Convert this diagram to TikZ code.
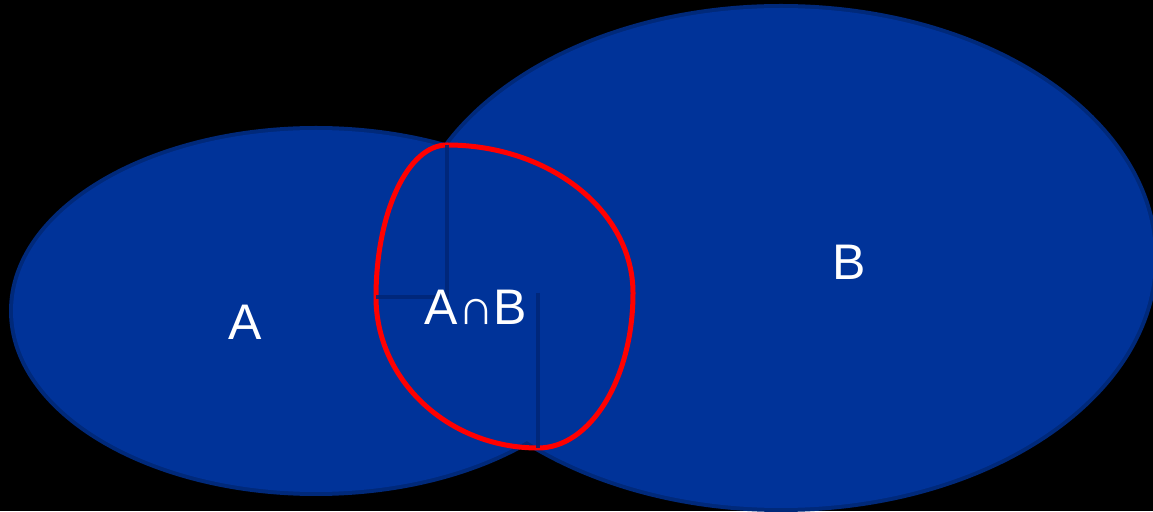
\documentclass[tikz,border=0pt]{standalone}
\usepackage{fontspec}
\setmainfont{Liberation Sans}
\usetikzlibrary{positioning}
\definecolor{setfill}{RGB}{0,51,153}
\definecolor{setedge}{RGB}{0,41,122}
\definecolor{arcedge}{RGB}{0,38,118}
\definecolor{lensred}{RGB}{255,0,0}
\tikzset{
  setline/.style={draw=setedge,line width=8pt},
  setbody/.style={fill=setfill},
  lens/.style={draw=lensred,line width=5pt},
  radius line/.style={draw=arcedge,line width=3.6pt,opacity=0.85},
  setlab/.style={text=white,font=\fontsize{50}{58}\selectfont,inner sep=0pt}
}
\begin{document}
\begin{tikzpicture}[x=1pt,y=1pt]
  \fill[black] (0,0) rectangle (1153,511);
  \useasboundingbox (0,0) rectangle (1153,511);
  \path[setline] (781,253) ellipse [x radius=373,y radius=250];
  \path[setline] (316,200) ellipse [x radius=303,y radius=181];
  \path[setbody] (781,253) ellipse [x radius=373,y radius=250];
  \path[setbody] (316,200) ellipse [x radius=303,y radius=181];
  \coordinate (lw) at (376,214);
  \coordinate (tp) at (447,366);
  \coordinate (rt) at (633,218);
  \coordinate (bt) at (538,63);
  \coordinate (c1) at (447,214);
  \coordinate (c3) at (538,218);
  \draw[lens] (lw) arc [start angle=180,end angle=90,x radius=71,y radius=152];
  \draw[lens] (tp) arc [start angle=90,end angle=0,x radius=186,y radius=148];
  \draw[lens] (rt) arc [start angle=0,end angle=-90,x radius=95,y radius=155];
  \draw[lens] (bt) arc [start angle=270,end angle=180,x radius=162,y radius=151];
  \draw[radius line] (tp) -- (c1) -- (lw);
  \draw[radius line] (c3) -- (bt);
  \node[setlab] (labA) at (245,189) {A};
  \node[setlab] (labB) at (849,249) {B};
  \node[setlab] (labAB) at (476,204) {A∩B};
\end{tikzpicture}
\end{document}
